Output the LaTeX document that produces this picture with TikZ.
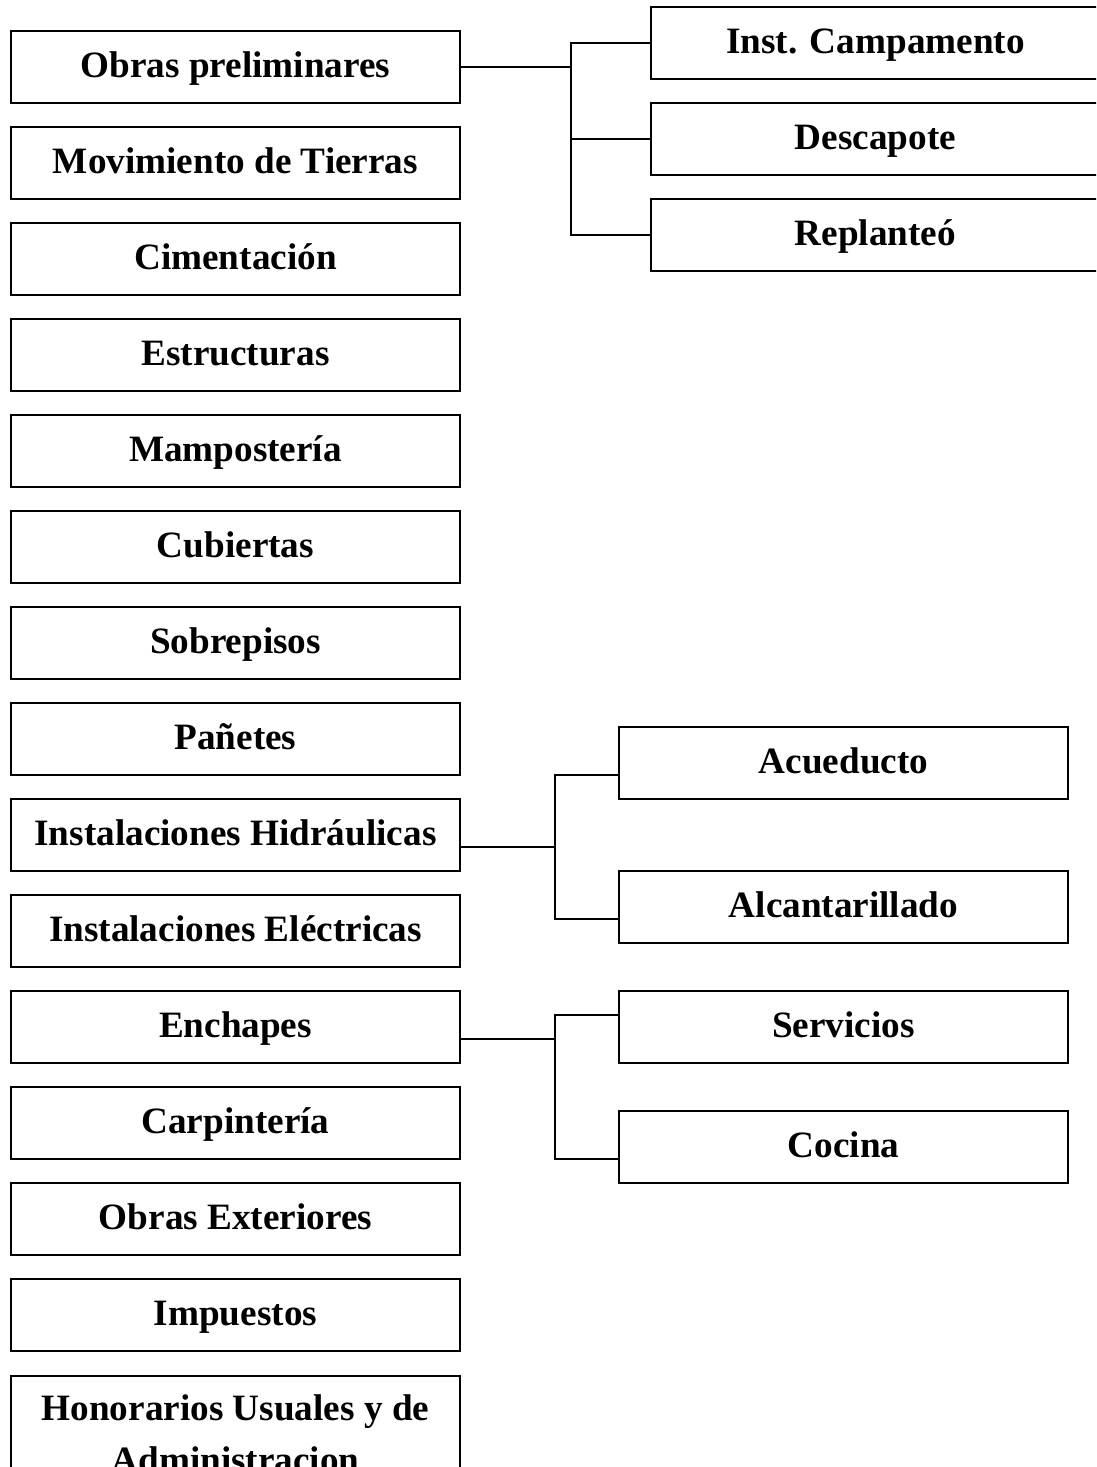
\documentclass[tikz,border=0pt]{standalone}
\usepackage{fontspec}
\setmainfont{Liberation Serif}
\tikzset{every picture/.style={line width=0.75pt}}
\tikzset{
  caja/.style={draw, line width=1.8pt, minimum width=336.75pt, minimum height=54pt, inner sep=0pt, align=center, text height=20.1pt, text depth=5pt, font=\fontsize{27.9}{39}\selectfont\bfseries},
  enlace/.style={line width=1.3pt}
}
\begin{document}
\begin{tikzpicture}[x=0.75pt,y=0.75pt,yscale=-1,xscale=1]
\useasboundingbox (0,0) rectangle (1096,1467);
\clip (0,0) rectangle (1096,1467);

% Left column
\draw (235.5,67) node [caja] (obras) {Obras preliminares};
\draw (235.5,163) node [caja] (movim) {Movimiento de Tierras};
\draw (235.5,259) node [caja] (cimen) {Cimentación};
\draw (235.5,355) node [caja] (estru) {Estructuras};
\draw (235.5,451) node [caja] (mampo) {Mampostería};
\draw (235.5,547) node [caja] (cubie) {Cubiertas};
\draw (235.5,643) node [caja] (sobre) {Sobrepisos};
\draw (235.5,739) node [caja] (panet) {Pañetes};
\draw (235.5,835) node [caja] (hidra) {Instalaciones Hidráulicas};
\draw (235.5,931) node [caja] (elect) {Instalaciones Eléctricas};
\draw (235.5,1027) node [caja] (encha) {Enchapes};
\draw (235.5,1123) node [caja] (carpi) {Carpintería};
\draw (235.5,1219) node [caja] (exter) {Obras Exteriores};
\draw (235.5,1315) node [caja] (impue) {Impuestos};
\draw (235.5,1375) node [caja, text height=, text depth=, anchor=north, inner ysep=13.5pt] (honor) {Honorarios Usuales y de\\Administracion};

% Right column, top group
\draw (875.5,43) node [caja] (campa) {Inst. Campamento};
\draw (875.5,139) node [caja] (desca) {Descapote};
\draw (875.5,235) node [caja] (repla) {Replanteó};

% Right column, lower groups
\draw (843.5,763) node [caja] (acued) {Acueducto};
\draw (843.5,907) node [caja] (alcan) {Alcantarillado};
\draw (843.5,1027) node [caja] (servi) {Servicios};
\draw (843.5,1147) node [caja] (cocin) {Cocina};

% Joints
\coordinate (j1) at (571,67);
\coordinate (j2) at (555,847);
\coordinate (j3) at (555,1039);

%Straight Lines
\draw [enlace] (obras.east) -- (j1);
\draw [enlace] (j1) |- (campa.west);
\draw [enlace] (j1) |- (desca.west);
\draw [enlace] (j1) |- (repla.west);

\draw [enlace] ([yshift=9pt]hidra.east) -- (j2);
\draw [enlace] (j2) |- ([yshift=9pt]acued.west);
\draw [enlace] (j2) |- ([yshift=9pt]alcan.west);

\draw [enlace] ([yshift=9pt]encha.east) -- (j3);
\draw [enlace] (j3) |- ([yshift=-9pt]servi.west);
\draw [enlace] (j3) |- ([yshift=9pt]cocin.west);

\end{tikzpicture}
\end{document}
